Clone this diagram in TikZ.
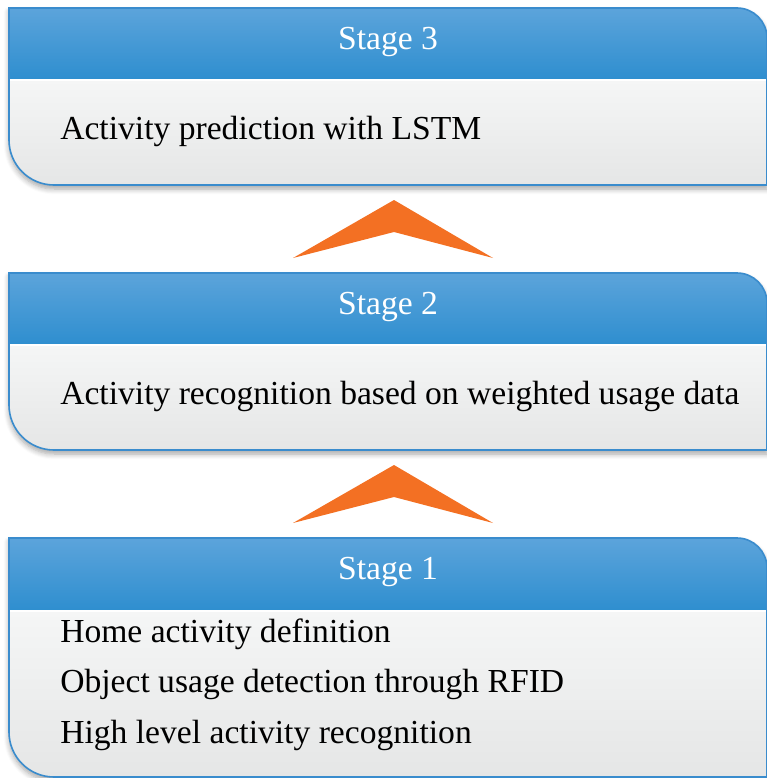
\documentclass[tikz,border=0pt]{standalone}
\usepackage{fontspec}
\setmainfont{Liberation Serif}
\usetikzlibrary{shadows.blur}

\definecolor{headtop}{RGB}{92,164,219}
\definecolor{headbot}{RGB}{46,142,207}
\definecolor{edgeblue}{RGB}{58,140,205}
\definecolor{bodytop}{RGB}{245,246,246}
\definecolor{bodybot}{RGB}{229,230,230}
\definecolor{chevron}{RGB}{243,112,35}

\tikzset{
  headtext/.style={text=white, font=\fontsize{25.2pt}{30pt}\selectfont, anchor=base},
  bodytext/.style={text=black, font=\fontsize{25.2pt}{30pt}\selectfont, anchor=base west, inner sep=0pt},
  panelshadow/.style={fill=white, blur shadow={shadow xshift=0pt, shadow yshift=-3pt, shadow blur steps=6, shadow opacity=35, shadow blur radius=4pt}},
  headfill/.style={top color=headtop, bottom color=headbot},
  bodyfill/.style={top color=bodytop, bottom color=bodybot},
  paneledge/.style={draw=edgeblue, line width=1.2pt},
  chevronfill/.style={fill=chevron}
}

% one stage panel: #1 top edge, #2 header/body split, #3 bottom edge (pixel units)
\newcommand\stagepanel[3]{%
  \path[panelshadow] (9,#1) -- (737,#1) arc[start angle=-90, end angle=0, radius=30]
    -- (767,#3) -- (54,#3) arc[start angle=90, end angle=180, radius=45] -- cycle;
  \path[headfill] (9,#2) -- (9,#1) -- (737,#1) arc[start angle=-90, end angle=0, radius=30]
    -- (767,#2) -- cycle;
  \path[bodyfill] (9,#2) -- (767,#2) -- (767,#3) -- (54,#3)
    arc[start angle=90, end angle=180, radius=45] -- cycle;
  \draw[white, line width=0.8pt] (10,#2) -- (766,#2);
  \path[paneledge] (9,#1) -- (737,#1) arc[start angle=-90, end angle=0, radius=30]
    -- (767,#3) -- (54,#3) arc[start angle=90, end angle=180, radius=45] -- cycle;
}

\begin{document}
\begin{tikzpicture}[x=0.75pt, y=-0.75pt]
\useasboundingbox (0,0) rectangle (767,778);

% stage panels, top to bottom
\stagepanel{8}{80}{185}
\stagepanel{273}{345}{450}
\stagepanel{538}{611}{777}

% upward chevrons between stages
\path[chevronfill] (394,200) -- (493,258) -- (394,232) -- (293,258) -- cycle;
\path[chevronfill] (394,465) -- (493,523) -- (394,497) -- (293,523) -- cycle;

% panel texts
\node[headtext] (s3) at (388,49) {Stage 3};
\node[bodytext] (s3a) at (60,139) {Activity prediction with LSTM};

\node[headtext] (s2) at (388,314) {Stage 2};
\node[bodytext] (s2a) at (60,404) {Activity recognition based on weighted usage data};

\node[headtext] (s1) at (388,579) {Stage 1};
\node[bodytext] (s1a) at (60,642) {Home activity definition};
\node[bodytext] (s1b) at (60,692) {Object usage detection through RFID};
\node[bodytext] (s1c) at (60,743) {High level activity recognition};
\end{tikzpicture}
\end{document}
